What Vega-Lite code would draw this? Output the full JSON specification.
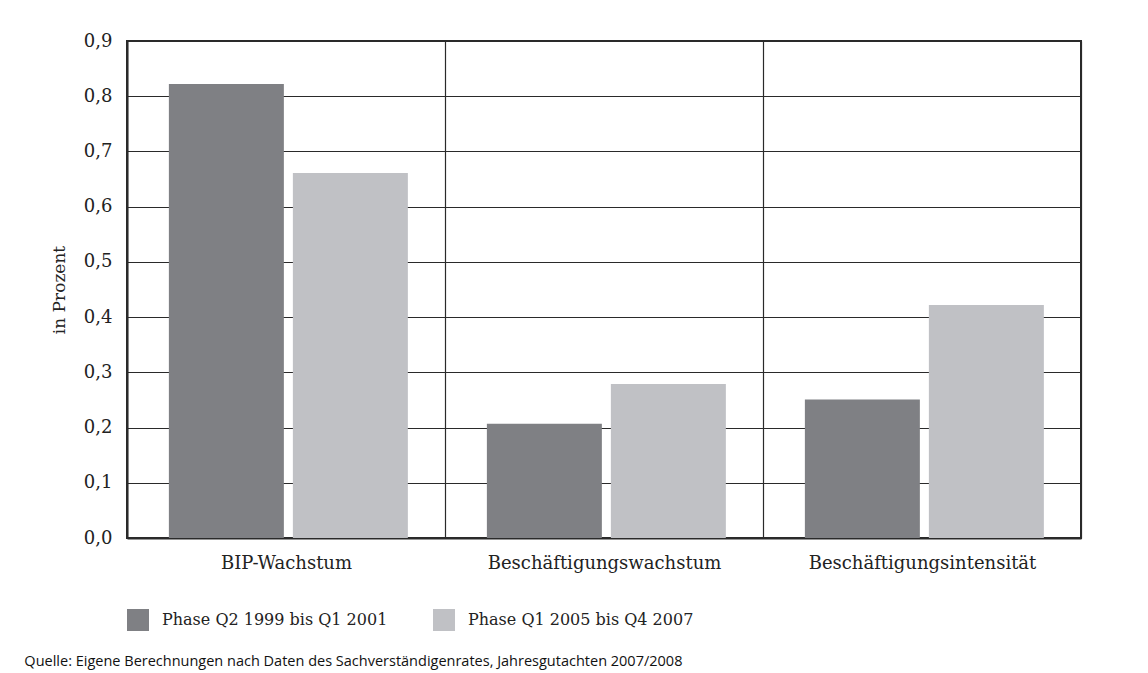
{
  "$schema": "https://vega.github.io/schema/vega-lite/v6.json",
  "width": 954,
  "height": 497,
  "autosize": "none",
  "padding": {"left": 127, "top": 41, "right": 67, "bottom": 135},
  "background": "white",
  "config": {
    "font": "DejaVu Serif",
    "view": {"stroke": "#2a2a2a", "strokeWidth": 2}
  },
  "data": {
    "values": [
      {"kategorie": "BIP-Wachstum", "phase": "Phase Q2 1999 bis Q1 2001", "wert": 0.822},
      {"kategorie": "BIP-Wachstum", "phase": "Phase Q1 2005 bis Q4 2007", "wert": 0.661},
      {"kategorie": "Beschäftigungswachstum", "phase": "Phase Q2 1999 bis Q1 2001", "wert": 0.207},
      {"kategorie": "Beschäftigungswachstum", "phase": "Phase Q1 2005 bis Q4 2007", "wert": 0.279},
      {"kategorie": "Beschäftigungsintensität", "phase": "Phase Q2 1999 bis Q1 2001", "wert": 0.251},
      {"kategorie": "Beschäftigungsintensität", "phase": "Phase Q1 2005 bis Q4 2007", "wert": 0.422}
    ]
  },
  "mark": {"type": "bar"},
  "encoding": {
    "x": {
      "field": "kategorie",
      "type": "nominal",
      "sort": ["BIP-Wachstum", "Beschäftigungswachstum", "Beschäftigungsintensität"],
      "scale": {"paddingInner": 0, "paddingOuter": 0},
      "axis": {
        "title": null,
        "labelAngle": 0,
        "labelFontSize": 18,
        "labelColor": "#222222",
        "labelPadding": 16,
        "labelLimit": 400,
        "ticks": false,
        "tickBand": "extent",
        "grid": true,
        "gridColor": "#2a2a2a",
        "gridWidth": 1.2,
        "gridOpacity": 1,
        "domainColor": "#2a2a2a",
        "domainWidth": 2
      }
    },
    "xOffset": {
      "field": "phase",
      "type": "nominal",
      "sort": ["Phase Q2 1999 bis Q1 2001", "Phase Q1 2005 bis Q4 2007"],
      "scale": {"paddingInner": 0.0726, "paddingOuter": 0.3186, "align": 0.53}
    },
    "y": {
      "field": "wert",
      "type": "quantitative",
      "scale": {"domain": [0, 0.9]},
      "axis": {
        "values": [0, 0.1, 0.2, 0.3, 0.4, 0.5, 0.6, 0.7, 0.8, 0.9],
        "labelExpr": "replace(format(datum.value, '.1f'), '.', ',')",
        "title": "in Prozent",
        "titleFont": "DejaVu Serif",
        "titleFontSize": 17,
        "titleFontWeight": "normal",
        "titleColor": "#222222",
        "titlePadding": 15,
        "labelFontSize": 18,
        "labelColor": "#222222",
        "labelPadding": 15,
        "ticks": false,
        "grid": true,
        "gridColor": "#2a2a2a",
        "gridWidth": 1.2,
        "gridOpacity": 1,
        "domainColor": "#2a2a2a",
        "domainWidth": 2
      }
    },
    "color": {
      "field": "phase",
      "type": "nominal",
      "scale": {
        "domain": ["Phase Q2 1999 bis Q1 2001", "Phase Q1 2005 bis Q4 2007"],
        "range": ["#7f8084", "#c0c1c5"]
      },
      "legend": {
        "title": null,
        "orient": "bottom",
        "direction": "horizontal",
        "symbolType": "square",
        "symbolSize": 484,
        "symbolStrokeWidth": 0,
        "symbolOpacity": 1,
        "labelFontSize": 16,
        "labelColor": "#222222",
        "labelOffset": 13,
        "labelLimit": 400,
        "columnPadding": 45,
        "offset": 37
      }
    }
  },
  "title": {
    "text": "Quelle: Eigene Berechnungen nach Daten des Sachverständigenrates, Jahresgutachten 2007/2008",
    "orient": "bottom",
    "anchor": "start",
    "frame": "bounds",
    "font": "Open Sans",
    "fontSize": 14.5,
    "fontWeight": "normal",
    "color": "#111111",
    "offset": 24,
    "dx": -26
  }
}
